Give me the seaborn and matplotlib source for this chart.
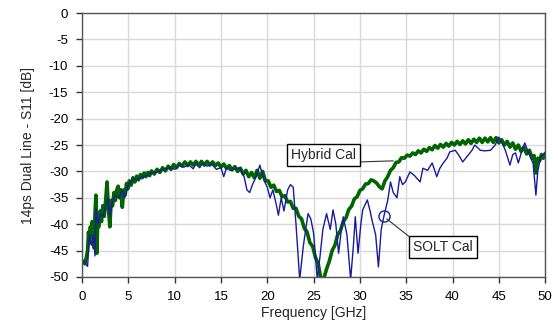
import matplotlib
matplotlib.use("Agg")
import matplotlib.pyplot as plt
import seaborn as sns
import pandas as pd

# Hybrid Cal (green)
hyb_f = [0.15,0.3,0.45,0.6,0.7,0.8,0.9,1.0,1.1,1.2,1.3,1.4,1.5,1.6,1.7,1.8,1.95,2.1,2.25,2.4,2.55,2.7,2.85,3.0,3.15,3.3,3.45,3.6,3.75,3.9,4.05,4.2,4.35,4.5,4.65,4.8,4.95,5.1,5.3,5.5,5.7,5.9,6.1,6.3,6.5,6.7,6.9,7.1,7.3,7.5,7.8,8.1,8.4,8.7,9.0,9.3,9.6,9.9,10.2,10.5,10.8,11.1,11.4,11.7,12.0,12.3,12.6,12.9,13.2,13.5,13.8,14.1,14.4,14.7,15.0,15.3,15.6,15.9,16.2,16.5,16.8,17.1,17.4,17.7,18.0,18.3,18.6,18.9,19.2,19.5,19.8,20.1,20.4,20.7,21.0,21.3,21.6,21.9,22.2,22.5,22.8,23.1,23.4,23.7,24.0,24.3,24.6,24.9,25.2,25.5,25.8,26.1,26.4,26.7,27.0,27.3,27.6,27.9,28.2,28.5,28.8,29.1,29.4,29.7,30.0,30.3,30.6,30.9,31.2,31.5,31.8,32.1,32.4,32.7,33.0,33.3,33.6,33.9,34.2,34.5,34.8,35.1,35.4,35.7,36.0,36.3,36.6,36.9,37.2,37.5,37.8,38.1,38.4,38.7,39.0,39.3,39.6,39.9,40.2,40.5,40.8,41.1,41.4,41.7,42.0,42.3,42.6,42.9,43.2,43.5,43.8,44.1,44.4,44.7,45.0,45.3,45.6,45.9,46.2,46.5,46.8,47.1,47.4,47.7,48.0,48.3,48.6,48.8,49.0,49.2,49.4,49.6,49.8,50.0]
hyb_db = [-47,-47.5,-46.5,-45,-41.5,-43.5,-40.5,-42.5,-39.5,-41,-44.5,-38,-34.5,-45.5,-39,-40.5,-37.5,-39.5,-36.5,-38.5,-35.5,-32,-37,-40.5,-35.5,-36.5,-34,-35.5,-33.5,-32.8,-35,-33.5,-36.8,-33.5,-34.5,-32.3,-33.3,-31.8,-32.6,-31.2,-32,-30.9,-31.6,-30.6,-31.2,-30.3,-31,-30.2,-30.8,-29.9,-30.5,-29.6,-30.2,-29.3,-29.9,-29,-29.6,-28.7,-29.3,-28.5,-29,-28.2,-28.9,-28.2,-28.8,-28.1,-28.8,-28.1,-28.8,-28.1,-28.8,-28.2,-28.9,-28.4,-29.2,-28.6,-29.4,-28.9,-29.7,-29.1,-30,-29.4,-30.5,-29.8,-31,-30.2,-31.2,-29.8,-31.3,-30,-31.8,-31.8,-33,-32.6,-33.8,-33.6,-34.8,-34.6,-35.8,-35.7,-37,-37,-38.5,-39,-40.8,-41.5,-43.5,-44.2,-46.3,-47.5,-50.5,-50.3,-48.5,-47,-45,-44,-42,-41.2,-39.5,-38.8,-37.2,-36.6,-35.2,-34.8,-33.6,-33.3,-32.4,-32.3,-31.6,-31.8,-32.2,-32.9,-33.3,-31.8,-31,-29.8,-29.3,-28.3,-28.2,-27.4,-27.5,-26.9,-27.1,-26.5,-26.8,-26.1,-26.5,-25.8,-26.2,-25.5,-25.9,-25.1,-25.6,-24.9,-25.4,-24.7,-25.2,-24.5,-25,-24.3,-24.9,-24.2,-24.8,-24,-24.7,-23.9,-24.5,-23.7,-24.5,-23.7,-24.4,-23.6,-24.5,-23.6,-24.6,-24,-25,-24.3,-25.4,-24.6,-25.8,-25,-26.2,-25.4,-26.7,-26,-27.5,-27,-30.3,-27.5,-28,-26.8,-27.5,-26.6]

# SOLT Cal (blue)
solt_f = [0.2,0.4,0.6,0.8,1.0,1.2,1.4,1.5,1.7,2.0,2.3,2.5,2.8,3.0,3.3,3.6,4.0,4.3,4.6,5.0,5.5,6.0,6.5,7.0,7.5,8.0,8.5,9.0,9.5,10,10.5,11,11.5,12,12.3,12.7,13,13.5,14,14.5,15,15.3,15.6,16,16.5,17,17.5,17.8,18.1,18.4,18.8,19.2,19.6,20,20.3,20.6,21,21.2,21.5,21.8,22.2,22.5,22.8,23.1,23.5,23.9,24.4,24.7,25,25.4,25.7,26,26.4,26.8,27.1,27.4,27.7,28,28.2,28.6,29,29.3,29.5,29.8,30.1,30.3,30.8,31.1,31.3,31.7,32,32.3,32.6,33,33.3,33.6,34,34.3,34.6,34.9,35.4,35.9,36.5,36.8,37.3,37.8,38.3,38.6,39,39.4,39.7,40.3,40.7,41.1,41.7,42.1,42.4,43,43.5,44.1,44.6,45,45.4,45.7,46.2,46.5,46.8,47.1,47.5,47.8,48.1,48.4,48.7,49,49.2,49.5,50]
solt_db = [-47,-47.5,-48,-42,-44,-42,-46,-37,-40,-38,-38.5,-37,-35,-38.5,-35.5,-34.5,-35,-33.5,-35,-32.5,-31.5,-31.5,-31,-30.8,-30.2,-30.2,-29.8,-29.5,-29.3,-29.6,-28.8,-29.2,-28.7,-29.5,-28.6,-29.3,-28.5,-29,-28.6,-29.6,-29.3,-31,-29.3,-29.8,-29.5,-29.3,-31,-33.5,-34,-32.5,-31,-28.8,-31.5,-33,-35,-33.5,-36.5,-38.3,-35,-37.5,-33.5,-32.5,-33,-40,-50.5,-44,-38,-39,-41.7,-50.5,-46,-41,-38,-41,-37.3,-40,-45.5,-41,-38.6,-42,-50.5,-44,-38.6,-45.5,-40,-37.3,-35.4,-37.5,-39.2,-42,-48.1,-41,-38.4,-35.5,-32,-34,-35,-31,-32.5,-32,-30.1,-30.8,-32,-29.4,-29.8,-28.4,-31,-29.5,-28.4,-27.5,-26.3,-26,-27,-28.2,-26.9,-26,-25,-26,-26.1,-26,-25,-23.5,-24.8,-26,-28.8,-26.8,-26.5,-28.4,-26,-24.6,-26,-27.3,-28.5,-34.5,-30,-27.3,-26.5]

x_ticks = [0,5,10,15,20,25,30,35,40,45,50]
y_ticks = [0,-5,-10,-15,-20,-25,-30,-35,-40,-45,-50]

sns.set_theme(style="white")
plt.rcParams['font.family'] = ['Liberation Sans', 'DejaVu Sans']
plt.rcParams['axes.unicode_minus'] = False

fig = plt.figure(figsize=(5.58, 3.27), dpi=100)
ax = fig.add_axes([0.147, 0.153, 0.830, 0.807])

df_h = pd.DataFrame({"f": hyb_f, "db": hyb_db})
df_s = pd.DataFrame({"f": solt_f, "db": solt_db})
sns.lineplot(data=df_h, x="f", y="db", ax=ax, color="#006400", lw=2.6, sort=False, zorder=2)
sns.lineplot(data=df_s, x="f", y="db", ax=ax, color="#1a1a9c", lw=1.0, sort=False, zorder=3)

ax.set_xlim(0, 50)
ax.set_ylim(-50, 0)
ax.set_xticks(x_ticks)
ax.set_yticks(y_ticks)
ax.grid(True, color="#d9d9d9", lw=1.0, zorder=0)
ax.set_axisbelow(True)
ax.tick_params(axis="both", direction="out", length=4, width=1, color="#333333",
               labelsize=9.5, labelcolor="black", pad=6, left=True, bottom=True)
for s in ax.spines.values():
    s.set_color("#555555")
    s.set_linewidth(1.0)
ax.set_xlabel("Frequency [GHz]", fontsize=10, labelpad=2)
ax.set_ylabel("14ps Dual Line - S11 [dB]", fontsize=10, labelpad=10)

# marker circle for SOLT
ax.plot([32.6], [-38.4], marker="o", ms=8, mfc="none", mec="#1a1a9c", mew=1.0, zorder=4)

box = dict(boxstyle="square,pad=0.3", fc="white", ec="black", lw=1.0)
ax.annotate("Hybrid Cal", xy=(33.6, -28.0), xytext=(26.1, -26.9), fontsize=10,
            ha="center", va="center", bbox=box,
            arrowprops=dict(arrowstyle="-", color="#333333", lw=0.8, relpos=(1, 0),
                            shrinkA=0, shrinkB=0), zorder=5)
ax.annotate("SOLT Cal", xy=(32.9, -39.0), xytext=(39.0, -44.3), fontsize=10,
            ha="center", va="center", bbox=box,
            arrowprops=dict(arrowstyle="-", color="#333333", lw=0.8, relpos=(0, 1),
                            shrinkA=0, shrinkB=0), zorder=5)

fig.savefig("out.png", dpi=100)
